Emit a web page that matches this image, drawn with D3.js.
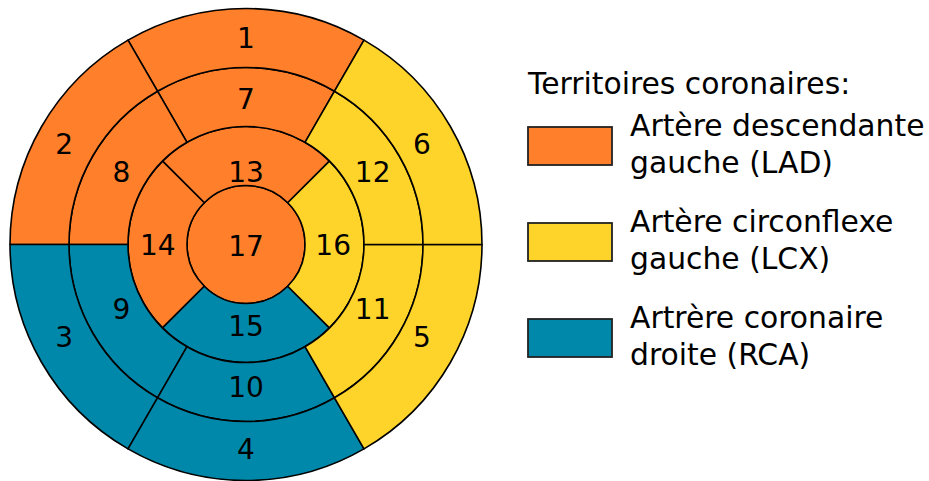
<!DOCTYPE html>
<html>
<head>
<meta charset="utf-8">
<script src="https://cdn.jsdelivr.net/npm/d3@7"></script>
<style>
  html, body { margin: 0; padding: 0; background: #fff; }
  svg { display: block; }
  text { font-family: "DejaVu Sans", sans-serif; fill: #000; }
</style>
</head>
<body>
<svg id="chart" width="929" height="481"></svg>
<script>
// 17 segment model, one row per ring (outer -> inner)
var basalSegments  = [1, 2, 3, 4, 5, 6];
var midSegments    = [7, 8, 9, 10, 11, 12];
var apicalSegments = [13, 14, 15, 16];
var apexSegments   = [17];

// territory of each segment, 1..17
var segmentTerritory = ["LAD", "LAD", "RCA", "RCA", "LCX", "LCX",
                        "LAD", "LAD", "RCA", "RCA", "LCX", "LCX",
                        "LAD", "LAD", "RCA", "LCX",
                        "LAD"];

var territoryKeys   = ["LAD", "LCX", "RCA"];
var territoryColors = ["#ff7f2a", "#ffd42a", "#0088aa"];
var legendTitle = "Territoires coronaires:";
var legendLines = [
  ["Artère descendante", "gauche (LAD)"],
  ["Artère circonflexe", "gauche (LCX)"],
  ["Artrère coronaire", "droite (RCA)"]
];

var svg = d3.select("#chart");
var cx = 246, cy = 244.5;

var color = d3.scaleOrdinal().domain(territoryKeys).range(territoryColors);
// ring index 0 = apex centre, 4 = outer edge
var radius = d3.scaleLinear().domain([0, 4]).range([0, 236]);

var rings = [
  {ids: apexSegments,   inner: 0},
  {ids: apicalSegments, inner: 1},
  {ids: midSegments,    inner: 2},
  {ids: basalSegments,  inner: 3}
];

var cells = [];
rings.forEach(function(ring) {
  var n = ring.ids.length;
  var step = 2 * Math.PI / n;
  ring.ids.forEach(function(id, k) {
    var mid = n === 1 ? 0 : -k * step;  // counter-clockwise from the top
    cells.push({
      id: id,
      ring: ring.inner,
      startAngle: n === 1 ? 0 : mid - step / 2,
      endAngle: n === 1 ? 2 * Math.PI : mid + step / 2,
      mid: mid,
      full: n === 1
    });
  });
});

var arc = d3.arc()
  .innerRadius(function(d) { return radius(d.ring); })
  .outerRadius(function(d) { return radius(d.ring + 1); });

var g = svg.append("g").attr("transform", "translate(" + cx + "," + cy + ")");

g.selectAll("path.seg")
  .data(cells)
  .enter().append("path")
  .attr("class", "seg")
  .attr("d", arc)
  .attr("fill", function(d) { return color(segmentTerritory[d.id - 1]); })
  .attr("stroke", "#000")
  .attr("stroke-width", 1.6)
  .attr("stroke-linejoin", "round");

// hand nudges for some labels [dx, dy], as placed in the original drawing
var labelNudge = {
  1: [0, -2], 2: [-5, 1], 3: [-5, -10], 5: [-1, -10], 6: [-1, 1],
  8: [1, 0], 9: [1, -8], 10: [0, -3], 11: [1, -8], 12: [1, 0],
  13: [0, 14], 14: [-2, 0], 15: [0, -5], 16: [1, 0], 17: [0, 1]
};
function nudge(d, i) { return (labelNudge[d.id] || [0, 0])[i]; }

g.selectAll("text.lab")
  .data(cells)
  .enter().append("text")
  .attr("class", "lab")
  .attr("text-anchor", "middle")
  .attr("dy", "0.36em")
  .style("font-size", "28px")
  .attr("x", function(d) {
    var x = d.full ? 0 : Math.sin(d.mid) * radius(d.ring + 0.46);
    return x + nudge(d, 0);
  })
  .attr("y", function(d) {
    var y = d.full ? 0 : -Math.cos(d.mid) * radius(d.ring + 0.46);
    return y + nudge(d, 1);
  })
  .text(function(d) { return d.id; });

// legend
var lx = 528, ly = 94;
svg.append("text")
  .attr("x", lx).attr("y", ly)
  .style("font-size", "29.8px")
  .text(legendTitle);

var item = svg.selectAll("g.item")
  .data(territoryKeys)
  .enter().append("g")
  .attr("class", "item")
  .attr("transform", function(d, i) { return "translate(0," + (i * 96) + ")"; });

item.append("rect")
  .attr("x", lx).attr("y", 127)
  .attr("width", 84).attr("height", 38)
  .attr("fill", function(d) { return color(d); })
  .attr("stroke", "#222")
  .attr("stroke-width", 1.8);

item.append("text")
  .attr("x", 630).attr("y", 136)
  .style("font-size", "29.8px")
  .selectAll("tspan")
  .data(function(d, i) { return legendLines[i]; })
  .enter().append("tspan")
  .attr("x", 630)
  .attr("dy", function(d, j) { return j === 0 ? 0 : 37; })
  .text(function(d) { return d; });
</script>
</body>
</html>
